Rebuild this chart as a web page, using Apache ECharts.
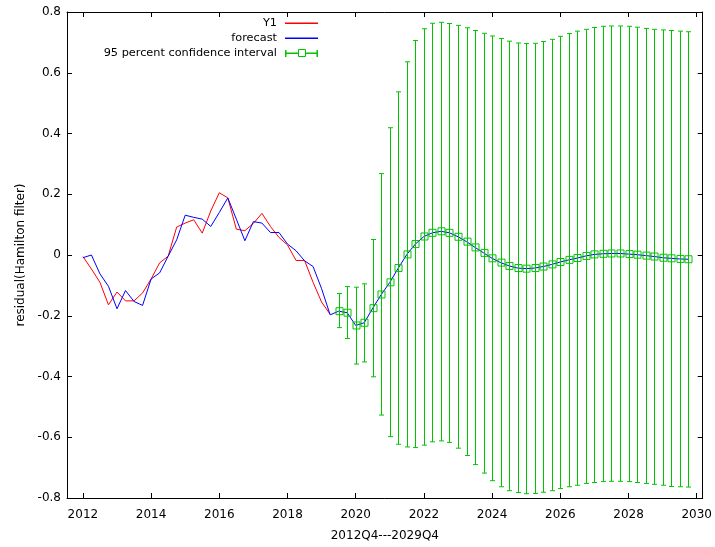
<!DOCTYPE html>
<html>
<head>
<meta charset="utf-8">
<script src="https://cdn.jsdelivr.net/npm/echarts@6/dist/echarts.min.js"></script>
<style>
  html, body { margin: 0; padding: 0; background: #fff; }
  #chart { width: 715px; height: 547px; }
</style>
</head>
<body>
<div id="chart"></div>
<script>
// Quarterly series; the first observation sits at x = 2012.0, one step per quarter.
const FIRST_X = 2012;
const STEP = 0.25;

// Observed residual (Hamilton filter)
const y1 = [
  -0.005, -0.046, -0.090, -0.164, -0.122, -0.151, -0.151, -0.125,
  -0.079, -0.026, -0.004, 0.092, 0.105, 0.116, 0.072, 0.145,
  0.205, 0.188, 0.085, 0.080, 0.104, 0.137, 0.094, 0.058,
  0.033, -0.018, -0.018, -0.090, -0.155, -0.195
];

// In-sample fit followed by the out-of-sample forecast
const forecast = [
  -0.009, 0.000, -0.062, -0.103, -0.177, -0.117, -0.153, -0.166,
  -0.079, -0.059, -0.004, 0.050, 0.131, 0.124, 0.118, 0.094,
  0.140, 0.188, 0.118, 0.047, 0.110, 0.105, 0.074, 0.074,
  0.036, 0.014, -0.019, -0.038, -0.111, -0.197,
  -0.185, -0.190, -0.232, -0.223, -0.175, -0.130, -0.090, -0.043,
  0.002, 0.036, 0.061, 0.073, 0.078, 0.073, 0.060, 0.044,
  0.025, 0.007, -0.011, -0.025, -0.036, -0.043, -0.045, -0.043,
  -0.038, -0.031, -0.023, -0.016, -0.010, -0.003, 0.002, 0.004,
  0.005, 0.005, 0.003, 0.001, -0.002, -0.005, -0.009, -0.011,
  -0.013, -0.014
];

// 95% interval, from the first forecast quarter onwards
const CI_FIRST_INDEX = 30;
const ciUpper = [
  -0.127, -0.104, -0.106, -0.095, 0.051, 0.268, 0.419, 0.537,
  0.636, 0.706, 0.745, 0.763, 0.766, 0.762, 0.756, 0.748,
  0.739, 0.730, 0.721, 0.713, 0.704, 0.698, 0.696, 0.697,
  0.703, 0.710, 0.720, 0.729, 0.737, 0.743, 0.749, 0.753,
  0.754, 0.754, 0.753, 0.750, 0.746, 0.743, 0.741, 0.739,
  0.737, 0.735
];
const ciLower = [
  -0.239, -0.275, -0.359, -0.352, -0.401, -0.527, -0.598, -0.623,
  -0.632, -0.634, -0.626, -0.615, -0.612, -0.617, -0.636, -0.660,
  -0.690, -0.718, -0.743, -0.763, -0.776, -0.782, -0.786, -0.785,
  -0.781, -0.776, -0.769, -0.763, -0.758, -0.752, -0.749, -0.746,
  -0.745, -0.745, -0.746, -0.749, -0.752, -0.755, -0.758, -0.762,
  -0.763, -0.764
];

const xTicks = [2012, 2014, 2016, 2018, 2020, 2022, 2024, 2026, 2028, 2030];

const RED = '#ff0000';
const BLUE = '#0000ff';
const GREEN = '#00c400';
const FONT = 'DejaVu Sans';

const xOf = i => FIRST_X + i * STEP;
const y1Data = y1.map((v, i) => [xOf(i), v]);
const fcData = forecast.map((v, i) => [xOf(i), v]);
const ciData = ciUpper.map((hi, k) => {
  const i = CI_FIRST_INDEX + k;
  return [xOf(i), ciLower[k], forecast[i], hi];
});

// Vertical error bar with end caps and an open square at the central value
function renderErrorBar(params, api) {
  const x = api.value(0);
  const top = api.coord([x, api.value(3)]);
  const bot = api.coord([x, api.value(1)]);
  const mid = api.coord([x, api.value(2)]);
  const cx = Math.round(top[0]) + 0.5;
  const cap = 2.5, half = 3.5;
  const style = { stroke: GREEN, lineWidth: 1, fill: null };
  return {
    type: 'group',
    children: [
      { type: 'line', shape: { x1: cx, y1: top[1], x2: cx, y2: bot[1] }, style },
      { type: 'line', shape: { x1: cx - cap, y1: top[1], x2: cx + cap, y2: top[1] }, style },
      { type: 'line', shape: { x1: cx - cap, y1: bot[1], x2: cx + cap, y2: bot[1] }, style },
      { type: 'rect', shape: { x: cx - half, y: mid[1] - half, width: 2 * half, height: 2 * half }, style }
    ]
  };
}

const axisLine = { show: true, onZero: false, lineStyle: { color: '#000', width: 1 } };
const tickStyle = { lineStyle: { color: '#000', width: 1 } };
const labelFont = { color: '#000', fontFamily: FONT, fontSize: 12 };

const X_MIN = 2011.534, X_MAX = 2030.175;

// Key entries, drawn in the upper left part of the plot
const KEY_FONT = '11.3px ' + FONT;
const KEY_TEXT_X = 277;
const KEY_X0 = 285, KEY_X1 = 318;
function keyText(text, y) {
  return { type: 'text', x: KEY_TEXT_X, y, style: { text, font: KEY_FONT, fill: '#000', align: 'right', verticalAlign: 'middle' } };
}
function keyRule(color, x, y, w, h) {
  return { type: 'rect', shape: { x, y, width: w, height: h }, style: { fill: color, stroke: null } };
}

const chart = echarts.init(document.getElementById('chart'), null, { renderer: 'canvas' });
chart.setOption({
  animation: false,
  backgroundColor: '#fff',
  grid: { left: 67, right: 8, top: 12, bottom: 47 },
  xAxis: [
    {
      type: 'value', position: 'bottom', min: X_MIN, max: X_MAX,
      axisLine,
      axisTick: { show: true, inside: true, length: 5, customValues: xTicks, ...tickStyle },
      axisLabel: { show: true, customValues: xTicks, margin: 11, ...labelFont, formatter: v => String(v) },
      splitLine: { show: false },
      name: '2012Q4---2029Q4', nameLocation: 'middle', nameGap: 32,
      nameTextStyle: { ...labelFont }
    },
    {
      type: 'value', position: 'top', min: X_MIN, max: X_MAX,
      axisLine,
      axisTick: { show: true, inside: true, length: 5, customValues: xTicks, ...tickStyle },
      axisLabel: { show: false },
      splitLine: { show: false }
    }
  ],
  yAxis: [
    {
      type: 'value', position: 'left', min: -0.8, max: 0.8, interval: 0.2,
      axisLine,
      axisTick: { show: true, inside: true, length: 5, ...tickStyle },
      axisLabel: { show: true, margin: 6, ...labelFont, formatter: v => String(Math.round(v * 10) / 10) },
      splitLine: { show: false },
      name: 'residual(Hamilton filter)', nameLocation: 'middle', nameGap: 37, nameRotate: 90,
      nameTextStyle: { ...labelFont }
    },
    {
      type: 'value', position: 'right', min: -0.8, max: 0.8, interval: 0.2,
      axisLine,
      axisTick: { show: true, inside: true, length: 5, ...tickStyle },
      axisLabel: { show: false },
      splitLine: { show: false }
    }
  ],
  series: [
    {
      name: 'Y1', type: 'line', data: y1Data, showSymbol: false,
      lineStyle: { color: RED, width: 1 }, itemStyle: { color: RED }, z: 2
    },
    {
      name: 'forecast', type: 'line', data: fcData, showSymbol: false,
      lineStyle: { color: BLUE, width: 1 }, itemStyle: { color: BLUE }, z: 3
    },
    {
      name: '95 percent confidence interval', type: 'custom', data: ciData,
      encode: { x: 0, y: [1, 2, 3] }, renderItem: renderErrorBar, z: 4
    }
  ],
  graphic: [
    keyText('Y1', 23),
    keyRule(RED, KEY_X0, 22.5, KEY_X1 - KEY_X0, 1.5),
    keyText('forecast', 38.5),
    keyRule(BLUE, KEY_X0, 37.5, KEY_X1 - KEY_X0, 1.5),
    keyText('95 percent confidence interval', 53.5),
    keyRule(GREEN, KEY_X0, 52.5, KEY_X1 - KEY_X0, 1.5),
    keyRule(GREEN, KEY_X0, 50, 1.5, 7),
    keyRule(GREEN, KEY_X1 - 1.5, 50, 1.5, 7),
    { type: 'rect', shape: { x: 298.5, y: 49.5, width: 7, height: 7 }, style: { stroke: GREEN, lineWidth: 1, fill: '#fff' } }
  ]
});
</script>
</body>
</html>
